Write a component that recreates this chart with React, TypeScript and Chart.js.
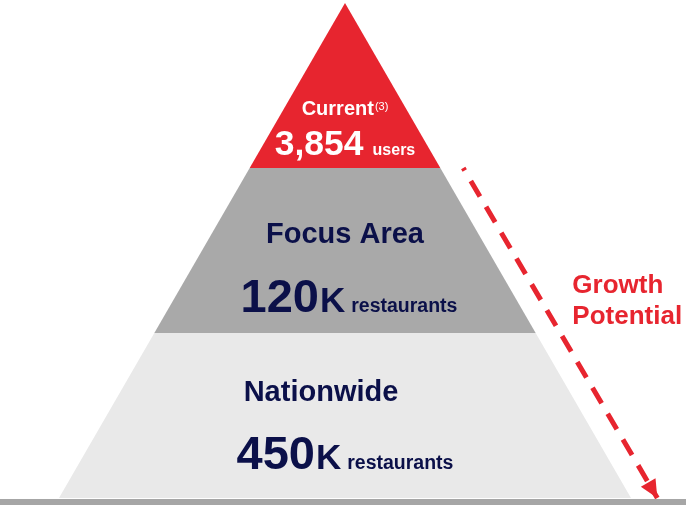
import React, { useEffect, useRef } from "react";
import { Chart, registerables } from "chart.js";

Chart.register(...registerables);

// ---- data (top tier first) ----
const tierNames = ["Current", "Focus Area", "Nationwide"];
const tierNotes = ["(3)", "", ""];
const tierValues = ["3,854", "120", "450"];
const tierSuffixes = ["", "K", "K"];
const tierUnits = ["users", "restaurants", "restaurants"];
const growthLabel = ["Growth", "Potential"];
const growthFromLevel = 2; // arrow starts at the top of the "Focus Area" tier
const growthToLevel = 0; // and runs down to the base

// ---- styles ----
const tierColors = ["#E7252F", "#A9A9A9", "#E9E9E9"];
const tierTextColors = ["#FFFFFF", "#0B1049", "#0B1049"];
const RED = "#E7252F";
const GROUND = "#A6A6A6";
const FONT = "'Liberation Sans', Arial, Helvetica, sans-serif";

// ---- layout (in pyramid units: levels 0..3 vertically, half-base = 1) ----
const X_MIN = -1.2063;
const X_MAX = 1.1923;
const Y_MIN = -0.0424;
const Y_MAX = 3.0182;
const ARROW_OFFSET_TOP = 0.08;
const ARROW_OFFSET_BOTTOM = 0.092;
const labelLayout = [
  { nameY: 2.321, nameSize: 20, nameShift: 0, valueY: 2.079, valueSize: 35.5, suffixSize: 0, unitSize: 16, unitGap: 9, valueShift: 0 },
  { nameY: 1.545, nameSize: 29, nameShift: 0, valueY: 1.127, valueSize: 47, suffixSize: 35, unitSize: 19.5, unitGap: 6, valueShift: 4 },
  { nameY: 0.588, nameSize: 29, nameShift: -24, valueY: 0.176, valueSize: 47, suffixSize: 35, unitSize: 19.5, unitGap: 6, valueShift: 0 },
];
const growthLayout = { x: 0.795, y1: 1.242, y2: 1.055, size: 26 };

const tierCount = tierNames.length;
const halfWidthAt = (level: number) => (tierCount - level) / tierCount;

function tierPolygon(i: number) {
  const top = tierCount - i;
  const bottom = top - 1;
  const wt = halfWidthAt(top);
  const wb = halfWidthAt(bottom);
  return [
    { x: -wb, y: bottom },
    { x: -wt, y: top },
    { x: wt, y: top },
    { x: wb, y: bottom },
    { x: -wb, y: bottom },
  ];
}

const textPlugin = {
  id: "pyramidText",
  afterDatasetsDraw(chart: any) {
    const ctx = chart.ctx as CanvasRenderingContext2D;
    const xs = chart.scales.x;
    const ys = chart.scales.y;
    const cx = xs.getPixelForValue(0);
    ctx.save();
    ctx.textBaseline = "alphabetic";
    ctx.textAlign = "left";

    // arrow head
    const arrowMeta = chart.getDatasetMeta(tierCount + 1);
    const pts = arrowMeta.data;
    if (pts.length >= 2) {
      const a = pts[pts.length - 2];
      const b = pts[pts.length - 1];
      const dx = b.x - a.x;
      const dy = b.y - a.y;
      const len = Math.hypot(dx, dy);
      const ux = dx / len;
      const uy = dy / len;
      const L = 18;
      const W = 8.5;
      const bx = b.x - ux * L;
      const by = b.y - uy * L;
      ctx.fillStyle = RED;
      ctx.beginPath();
      ctx.moveTo(b.x, b.y);
      ctx.lineTo(bx - uy * W, by + ux * W);
      ctx.lineTo(bx + uy * W, by - ux * W);
      ctx.closePath();
      ctx.fill();
    }

    for (let i = 0; i < tierCount; i++) {
      const lay = labelLayout[i];
      ctx.fillStyle = tierTextColors[i];
      ctx.font = `bold ${lay.nameSize}px ${FONT}`;
      const nameW = ctx.measureText(tierNames[i]).width;
      let noteW = 0;
      const noteSize = 11;
      if (tierNotes[i]) {
        ctx.font = `${noteSize}px ${FONT}`;
        noteW = ctx.measureText(tierNotes[i]).width + 1;
      }
      const ny = ys.getPixelForValue(lay.nameY);
      const nx = cx + lay.nameShift - (nameW + noteW) / 2;
      ctx.font = `bold ${lay.nameSize}px ${FONT}`;
      ctx.fillText(tierNames[i], nx, ny);
      if (tierNotes[i]) {
        ctx.font = `${noteSize}px ${FONT}`;
        ctx.fillText(tierNotes[i], nx + nameW + 1, ny - 5);
      }

      const segs: { t: string; size: number; gap: number }[] = [
        { t: tierValues[i], size: lay.valueSize, gap: 0 },
      ];
      if (tierSuffixes[i]) segs.push({ t: tierSuffixes[i], size: lay.suffixSize, gap: 1 });
      segs.push({ t: tierUnits[i], size: lay.unitSize, gap: lay.unitGap });
      let total = 0;
      const widths = segs.map((s) => {
        ctx.font = `bold ${s.size}px ${FONT}`;
        const w = ctx.measureText(s.t).width;
        total += w + s.gap;
        return w;
      });
      const vy = ys.getPixelForValue(lay.valueY);
      let x = cx + lay.valueShift - total / 2;
      segs.forEach((s, k) => {
        x += s.gap;
        ctx.font = `bold ${s.size}px ${FONT}`;
        ctx.fillText(s.t, x, vy);
        x += widths[k];
      });
    }

    ctx.fillStyle = RED;
    ctx.font = `bold ${growthLayout.size}px ${FONT}`;
    const gx = xs.getPixelForValue(growthLayout.x);
    ctx.fillText(growthLabel[0], gx, ys.getPixelForValue(growthLayout.y1));
    ctx.fillText(growthLabel[1], gx, ys.getPixelForValue(growthLayout.y2));
    ctx.restore();
  },
};

export default function App() {
  const ref = useRef<HTMLCanvasElement | null>(null);

  useEffect(() => {
    if (!ref.current) return;
    const tierSets = tierNames.map((name, i) => ({
      label: name,
      data: tierPolygon(i),
      showLine: true,
      fill: "shape",
      backgroundColor: tierColors[i],
      borderWidth: 0,
      pointRadius: 0,
      tension: 0,
    }));
    const groundSet = {
      label: "ground",
      data: [
        { x: X_MIN - 0.1, y: -0.006 },
        { x: X_MAX + 0.1, y: -0.006 },
        { x: X_MAX + 0.1, y: Y_MIN - 0.1 },
        { x: X_MIN - 0.1, y: Y_MIN - 0.1 },
        { x: X_MIN - 0.1, y: -0.006 },
      ],
      showLine: true,
      fill: "shape",
      backgroundColor: GROUND,
      borderWidth: 0,
      pointRadius: 0,
      tension: 0,
    };
    const arrowSet = {
      label: "growth",
      data: [
        { x: halfWidthAt(growthFromLevel) + ARROW_OFFSET_TOP, y: growthFromLevel },
        { x: halfWidthAt(growthToLevel) + ARROW_OFFSET_BOTTOM, y: growthToLevel },
      ],
      showLine: true,
      fill: false,
      borderColor: RED,
      borderWidth: 5,
      borderDash: [18, 12],
      borderDashOffset: 15,
      borderCapStyle: "butt",
      pointRadius: 0,
      tension: 0,
    };
    const chart = new Chart(ref.current, {
      type: "scatter",
      data: { datasets: [...tierSets, groundSet, arrowSet] as any },
      options: {
        animation: false,
        responsive: true,
        maintainAspectRatio: false,
        layout: { padding: 0 },
        events: [],
        plugins: { legend: { display: false }, tooltip: { enabled: false } },
        scales: {
          x: { type: "linear", min: X_MIN, max: X_MAX, display: false },
          y: { type: "linear", min: Y_MIN, max: Y_MAX, display: false },
        },
      } as any,
      plugins: [textPlugin],
    });
    return () => chart.destroy();
  }, []);

  return (
    <div style={{ position: "absolute", left: 0, top: 0, width: 686, height: 505, background: "#fff" }}>
      <canvas ref={ref} />
    </div>
  );
}
